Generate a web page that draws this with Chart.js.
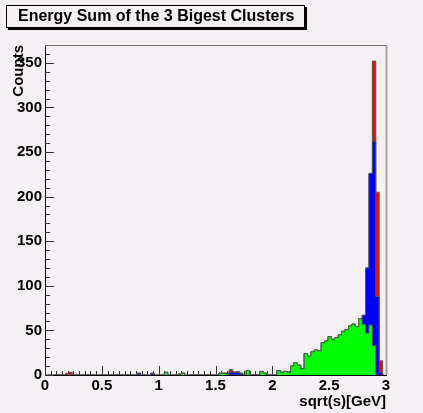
<!DOCTYPE html>
<html>
<head>
<meta charset="utf-8">
<script src="https://cdn.jsdelivr.net/npm/chart.js@4"></script>
<style>
  html, body { margin: 0; padding: 0; background: #f4f0f4; }
</style>
</head>
<body>
<canvas id="histCanvas" width="423" height="413"></canvas>
<script>
// histogram binning: 100 bins between 0 and 3 GeV
const xMin = 0;
const xMax = 3;
const nBins = 100;

// y axis range and tick labels
const yMax = 370;
const xTickStep = 0.5;
const yTickStep = 50;

// visible heights of the three overlaid histograms (counts per bin)
const redCounts = [
  0, 0, 0, 0, 0, 0, 2, 3, 0, 0,
  0, 0, 0, 0, 0, 0, 0, 0, 0, 0,
  0, 0, 0, 0, 0, 0, 0, 2, 0, 0,
  0, 2, 0, 0, 0, 3, 0, 0, 0, 1,
  2, 0, 0, 0, 0, 0, 0, 0, 0, 0,
  0, 2, 2, 2, 6, 3, 4, 2, 0, 5,
  0, 0, 0, 4, 2, 0, 0, 0, 5, 3,
  4, 3, 10, 14, 11, 7, 24, 21, 26, 28,
  27, 36, 38, 43, 40, 42, 45, 49, 51, 55,
  57, 54, 63, 67, 120, 226, 352, 205, 16, 0
];

const blueCounts = [
  0, 0, 0, 0, 0, 0, 0, 0, 0, 0,
  0, 0, 0, 0, 0, 0, 0, 0, 0, 0,
  0, 0, 0, 0, 0, 0, 0, 2, 0, 0,
  0, 2, 0, 0, 0, 3, 0, 0, 0, 1,
  2, 0, 0, 0, 0, 0, 0, 0, 0, 0,
  0, 2, 2, 2, 3, 3, 3, 2, 0, 5,
  0, 0, 0, 4, 2, 0, 0, 0, 5, 3,
  4, 3, 10, 14, 11, 7, 24, 21, 26, 28,
  27, 36, 38, 43, 40, 42, 45, 49, 51, 55,
  57, 54, 63, 67, 120, 226, 262, 88, 3, 0
];

const greenCounts = [
  0, 0, 0, 0, 0, 0, 0, 0, 0, 0,
  0, 0, 0, 0, 0, 0, 0, 0, 0, 0,
  0, 0, 0, 0, 0, 0, 0, 0, 0, 0,
  0, 0, 0, 0, 0, 3, 0, 0, 0, 1,
  2, 0, 0, 0, 0, 0, 0, 0, 0, 0,
  0, 2, 2, 1, 0, 0, 0, 0, 0, 5,
  0, 0, 0, 4, 2, 0, 0, 0, 5, 3,
  4, 3, 10, 14, 11, 7, 24, 21, 26, 28,
  27, 36, 38, 43, 40, 42, 45, 49, 51, 55,
  57, 54, 63, 57, 47, 56, 33, 0, 0, 0
];

const BG = '#f4f0f4';
const FONT_FAMILY = '"Liberation Sans", Arial, Helvetica, sans-serif';

const binWidth = (xMax - xMin) / nBins;

function toPoints(counts) {
  return counts.map((c, i) => ({ x: xMin + (i + 0.5) * binWidth, y: c }));
}

function histDataset(label, counts, fillColor) {
  return {
    label: label,
    data: toPoints(counts),
    stepped: 'middle',
    fill: 'origin',
    backgroundColor: fillColor,
    borderColor: '#555',
    borderWidth: 1,
    pointRadius: 0
  };
}

// canvas background
const bgPlugin = {
  id: 'bg',
  beforeDraw(chart) {
    const ctx = chart.ctx;
    ctx.save();
    ctx.fillStyle = BG;
    ctx.fillRect(0, 0, chart.width, chart.height);
    ctx.restore();
  }
};

// ROOT style ticks pointing into the frame
const tickPlugin = {
  id: 'rootTicks',
  beforeDatasetsDraw(chart) {
    const { ctx, chartArea, scales } = chart;
    ctx.save();
    ctx.strokeStyle = '#333';
    ctx.lineWidth = 1;
    ctx.beginPath();
    for (let k = 0; k <= 60; k++) {
      const x = Math.round(scales.x.getPixelForValue(k * 0.05)) + 0.5;
      const len = k % 10 === 0 ? 9 : 4;
      ctx.moveTo(x, chartArea.bottom);
      ctx.lineTo(x, chartArea.bottom - len);
    }
    for (let v = 0; v <= yMax; v += 10) {
      const y = Math.round(scales.y.getPixelForValue(v)) + 0.5;
      const len = v % 50 === 0 ? 9 : 5;
      ctx.moveTo(chartArea.left, y);
      ctx.lineTo(chartArea.left + len, y);
    }
    ctx.stroke();
    ctx.restore();
  }
};

// frame top / right edges and the title box
const framePlugin = {
  id: 'frame',
  afterDraw(chart) {
    const { ctx, chartArea } = chart;
    ctx.save();
    ctx.strokeStyle = '#6e6e6e';
    ctx.lineWidth = 1;
    ctx.beginPath();
    ctx.moveTo(chartArea.left, chartArea.top + 0.5);
    ctx.lineTo(chartArea.right, chartArea.top + 0.5);
    ctx.stroke();
    ctx.strokeStyle = '#a0a0a0';
    ctx.lineWidth = 2;
    ctx.beginPath();
    ctx.moveTo(chartArea.right + 0.5, chartArea.top);
    ctx.lineTo(chartArea.right + 0.5, chartArea.bottom);
    ctx.stroke();

    // title pave with shadow
    ctx.fillStyle = '#000';
    ctx.fillRect(8, 7, 299, 23);
    ctx.fillStyle = BG;
    ctx.fillRect(6, 5, 299, 23);
    ctx.strokeStyle = '#000';
    ctx.lineWidth = 1;
    ctx.strokeRect(6.5, 5.5, 298, 22);
    ctx.fillStyle = '#000';
    ctx.font = 'bold 16px ' + FONT_FAMILY;
    ctx.textAlign = 'left';
    ctx.textBaseline = 'middle';
    ctx.fillText('Energy Sum of the 3 Bigest Clusters', 18, 17);
    ctx.restore();
  }
};

document.addEventListener('DOMContentLoaded', () => {
  const ctx = document.getElementById('histCanvas').getContext('2d');
  const axisFont = { family: FONT_FAMILY, size: 15, weight: 'bold' };

  new Chart(ctx, {
    type: 'line',
    data: {
      datasets: [
        histDataset('green', greenCounts, '#00ff00'),
        histDataset('blue', blueCounts, '#0000ff'),
        histDataset('red', redCounts, '#ff0000')
      ]
    },
    options: {
      responsive: false,
      animation: false,
      layout: { padding: { top: 45, right: 37, left: 0, bottom: 0 } },
      plugins: {
        legend: { display: false },
        tooltip: { enabled: false },
        title: { display: false }
      },
      scales: {
        x: {
          type: 'linear',
          min: xMin,
          max: xMax,
          ticks: {
            stepSize: xTickStep,
            includeBounds: false,
            font: axisFont,
            color: '#000',
            padding: 2,
            maxRotation: 0,
            autoSkip: false,
            callback: (v) => String(Number(v.toFixed(2)))
          },
          grid: { display: false, drawTicks: false },
          border: { display: true, color: '#000', width: 1 },
          title: {
            display: true,
            text: 'sqrt(s)[GeV]',
            align: 'end',
            font: axisFont,
            color: '#000',
            padding: { top: 0, bottom: 2 }
          },
          afterFit(scale) { scale.height = 38; }
        },
        y: {
          type: 'linear',
          min: 0,
          max: yMax,
          ticks: {
            stepSize: yTickStep,
            includeBounds: false,
            font: axisFont,
            color: '#000',
            padding: 3
          },
          grid: { display: false, drawTicks: false },
          border: { display: true, color: '#000', width: 1 },
          title: {
            display: true,
            text: 'Counts',
            align: 'end',
            font: axisFont,
            color: '#000',
            padding: { top: 10, bottom: 0 }
          },
          afterFit(scale) { scale.width = 45; }
        }
      }
    },
    plugins: [bgPlugin, tickPlugin, framePlugin]
  });
});
</script>
</body>
</html>
